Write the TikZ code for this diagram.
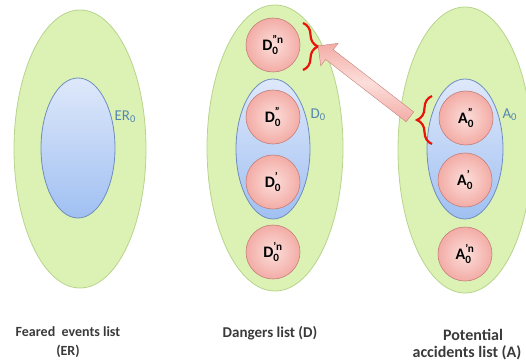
\documentclass[tikz,border=0pt]{standalone}
\usepackage{amsmath}
\usepackage{fontspec}
\setmainfont{Carlito}
\usetikzlibrary{shapes.geometric,shapes.arrows,decorations.pathreplacing}
\definecolor{vert}{RGB}{220,242,180}
\definecolor{bordvert}{RGB}{184,212,140}
\definecolor{bleuhaut}{RGB}{222,232,250}
\definecolor{bleubas}{RGB}{160,192,242}
\definecolor{bordbleu}{RGB}{110,140,190}
\definecolor{rose}{RGB}{243,172,166}
\definecolor{roseclair}{RGB}{252,222,218}
\definecolor{bordrose}{RGB}{196,128,122}
\definecolor{rouge}{RGB}{232,20,12}
\definecolor{etiq}{RGB}{84,134,176}
\definecolor{gris}{RGB}{58,58,58}
\newcommand{\elem}[2]{\textbf{#1}$_{\textbf{0}}^{\textbf{#2}}$}

\begin{document}
\begin{tikzpicture}[x=1pt, y=1pt]
\tikzset{grand/.style={ellipse, draw=bordvert, fill=vert, line width=0.8pt, inner sep=0pt}}
\tikzset{petit/.style={ellipse, draw=bordbleu, top color=bleuhaut, bottom color=bleubas, line width=0.8pt, inner sep=0pt}}
\tikzset{boule/.style={circle, draw=bordrose, inner color=roseclair, outer color=rose, line width=0.6pt, minimum size=54pt, inner sep=0pt, font=\fontsize{16}{16}\selectfont}}
\tikzset{nom/.style={text=etiq, anchor=west, font=\fontsize{15}{15}\selectfont}}
\tikzset{accolade/.style={draw=rouge, line width=2.2pt, decorate, decoration={brace, amplitude=15pt}}}
\tikzset{fleche/.style={single arrow, draw=bordrose, top color=rose, bottom color=rose, middle color=roseclair, inner xsep=0pt, inner ysep=6pt, minimum width=28pt, single arrow head extend=8pt, single arrow head indent=0pt}}
\tikzset{titre/.style={text=gris, align=center, font=\bfseries\fontsize{14}{19}\selectfont}}
\useasboundingbox (0,0) rectangle (526,362);
\node[grand, minimum width=132pt, minimum height=278pt] (G1) at (80,213) {};
\node[grand, minimum width=136pt, minimum height=286pt] (G2) at (275,214) {};
\node[grand, minimum width=134pt, minimum height=286pt] (G3) at (465,212) {};
\node[petit, minimum width=74pt, minimum height=140pt] (B1) at (78,214) {};
\node[petit, minimum width=74pt, minimum height=140pt] (B2) at (273,213) {};
\node[petit, minimum width=76pt, minimum height=140pt] (B3) at (465,213) {};
\node[nom] (N1) at (111,245) {ER$_{\text{0}}$};
\node[nom] (N2) at (307,247) {D$_{\text{0}}$};
\node[nom] (N3) at (499,247) {A$_{\text{0}}$};
\node[boule] (D1) at (273,317) {\elem{D}{"n}};
\node[boule] (D2) at (273,245) {\elem{D}{"}};
\node[boule] (D3) at (273,180) {\elem{D}{'}};
\node[boule] (D4) at (273,110) {\elem{D}{'n}};
\node[boule] (A1) at (466,244) {\elem{A}{"}};
\node[boule] (A2) at (465,182) {\elem{A}{'}};
\node[boule] (A3) at (465,108) {\elem{A}{'n}};
\draw[accolade] (303,339) -- (303,292) coordinate[pos=0.5, xshift=16pt] (Dtip);
\draw[accolade] (432,218) -- (432,266) coordinate[pos=0.5, xshift=-18pt] (Atip);
\path (Atip) -- (Dtip) node[fleche, midway, sloped, allow upside down, minimum height=116pt] (F) {};
\node[titre] (T1) at (68,20) {Feared\ \ events list\\(ER)};
\node[titre, font=\bfseries\fontsize{15}{15}\selectfont] (T2) at (270,29) {Dangers list (D)};
\node[titre, inner sep=1pt, font=\bfseries\fontsize{16}{16}\selectfont] (T3) at (473,27) {Potential};
\node[titre, inner sep=1pt, font=\bfseries\fontsize{16}{16}\selectfont] (T4) at (467,9) {accidents list (A)};
\end{tikzpicture}
\end{document}
